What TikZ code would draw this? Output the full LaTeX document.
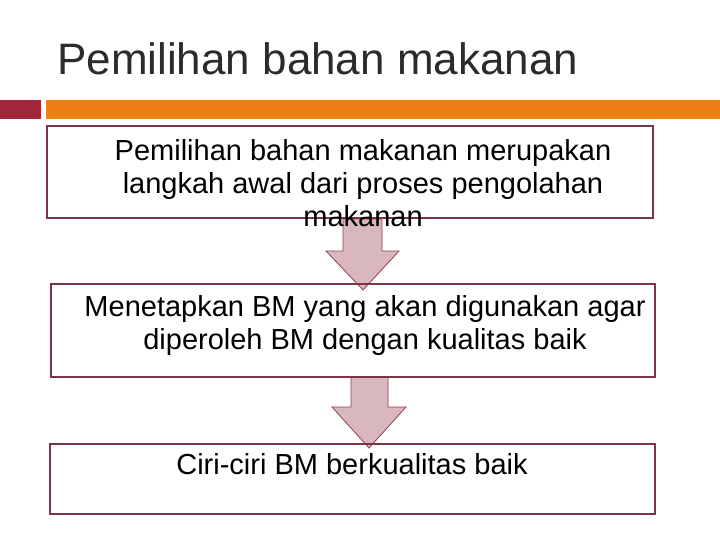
\documentclass[tikz,border=0pt]{standalone}
\usepackage{fontspec}
\setmainfont{Liberation Sans}
\definecolor{barred}{HTML}{A0283A}
\definecolor{barorange}{HTML}{EE7F12}
\definecolor{boxline}{HTML}{7B3544}
\definecolor{arrowfill}{HTML}{D8B8BC}
\definecolor{arrowline}{HTML}{8E4050}
\definecolor{titlegray}{HTML}{2B2B2B}
\begin{document}
\begin{tikzpicture}[x=1pt,y=-1pt,
  box/.style={draw=boxline,line width=2pt},
  blockarrow/.style={draw=arrowline,fill=arrowfill,line width=0.8pt,line join=miter},
  boxtext/.style={inner sep=0pt,align=center,font=\fontsize{29}{33}\selectfont}]
\useasboundingbox (0,0) rectangle (720,540);
% title and bars
\node[anchor=base west,inner sep=0pt,text=titlegray,font=\fontsize{44}{50}\selectfont] (title) at (57,75) {Pemilihan bahan makanan};
\fill[barred] (0,100) rectangle (41,119);
\fill[barorange] (46,100) rectangle (720,119);
% arrows
\draw[blockarrow] (343,219) -- (382,219) -- (382,251) -- (399,251) -- (363,290) -- (326,251) -- (343,251) -- cycle;
\draw[blockarrow] (351,377) -- (388,377) -- (388,407) -- (406,407) -- (369,448) -- (332,407) -- (351,407) -- cycle;
% boxes
\draw[box] (47,126) rectangle (653,218);
\draw[box] (51,284) rectangle (655,377);
\draw[box,line width=2.6pt] (50,444) rectangle (655,514);
% texts (base anchor = baseline of last line)
\node[boxtext,anchor=base] (t1) at (363,226) {Pemilihan bahan makanan merupakan\\langkah awal dari proses pengolahan\\makanan};
\node[boxtext,anchor=base] (t2) at (365,349) {Menetapkan BM yang akan digunakan agar\\diperoleh BM dengan kualitas baik};
\node[boxtext,anchor=base] (t3) at (352,474) {Ciri-ciri BM berkualitas baik};
\end{tikzpicture}
\end{document}
